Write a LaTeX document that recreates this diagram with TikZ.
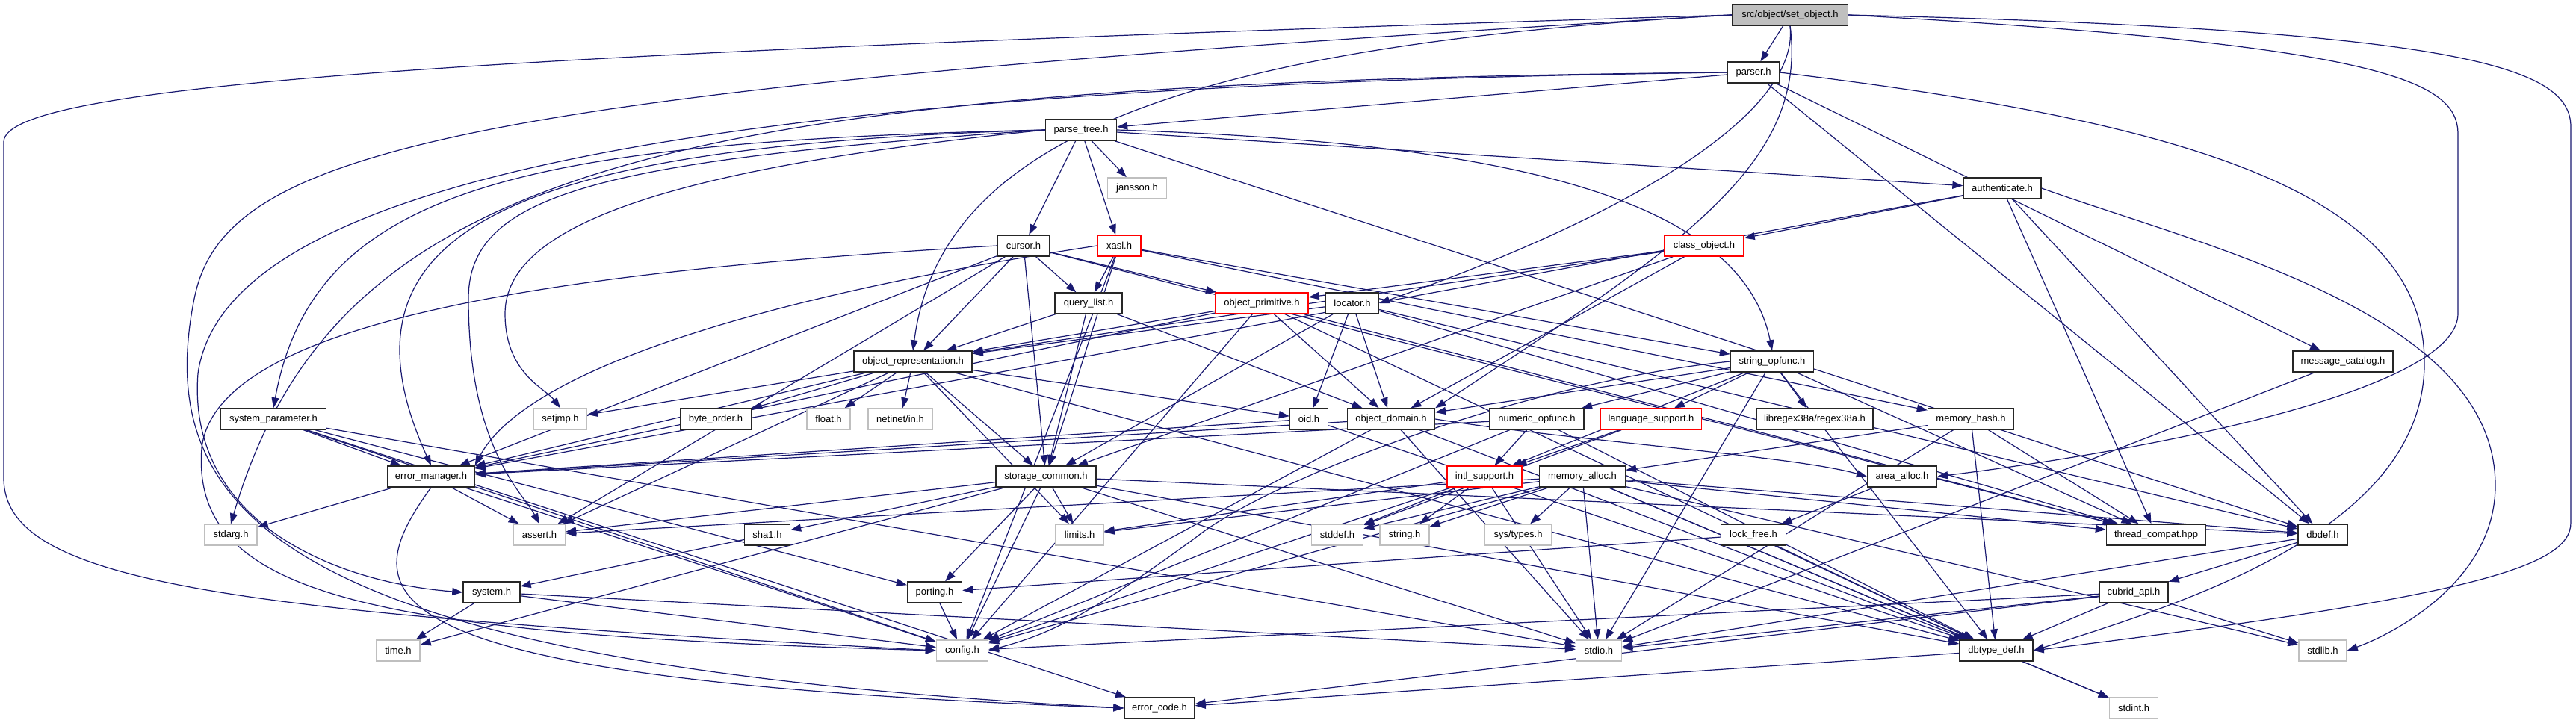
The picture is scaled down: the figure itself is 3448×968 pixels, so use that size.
\documentclass[tikz,border=0pt]{standalone}
\usepackage{fontspec}
\setmainfont{Liberation Sans}
\usetikzlibrary{arrows.meta,backgrounds}
\definecolor{edgeblue}{RGB}{25,25,112}
\definecolor{sysgray}{RGB}{191,191,191}
\begin{document}
\begin{tikzpicture}[x=1pt, y=-1pt, >={Triangle[length=14pt,width=10pt]},
  font=\fontsize{13}{15}\selectfont,
  hdr/.style={draw=black!85, line width=1.4pt, fill=white, minimum height=28pt, inner sep=2pt},
  sys/.style={hdr, draw=sysgray},
  bad/.style={hdr, draw=red},
  inc/.style={->, draw=edgeblue, line width=1.2pt}]
%% 1pt = 1px of the 3448 x 968 canvas, y grows downwards
\useasboundingbox (0,0) rectangle (3448,968);

%% ---- Rank 0-2 ----
\node[hdr, fill=sysgray, minimum width=155pt] (setobj) at (2396,20) {src/object/set\_object.h};
\node[hdr, minimum width=69pt]  (parser)       at (2347,97)  {parser.h};
\node[hdr, minimum width=95pt]  (parsetree)    at (1447,174) {parse\_tree.h};
\node[sys, minimum width=79pt]  (jansson)      at (1522,252) {jansson.h};
\node[hdr, minimum width=104pt] (authenticate) at (2680,252) {authenticate.h};

%% ---- Rank 3-4 ----
\node[hdr, minimum width=69pt]  (cursor)    at (1370,329) {cursor.h};
\node[bad, minimum width=58pt]  (xasl)      at (1498,329) {xasl.h};
\node[bad, minimum width=106pt] (classobj)  at (2281,329) {class\_object.h};
\node[hdr, minimum width=90pt]  (querylist) at (1457,406) {query\_list.h};
\node[bad, minimum width=124pt] (objprim)   at (1689,406) {object\_primitive.h};
\node[hdr, minimum width=71pt]  (locator)   at (1810,406) {locator.h};

%% ---- Rank 5 ----
\node[hdr, minimum width=158pt] (objrep)    at (1222,484) {object\_representation.h};
\node[hdr, minimum width=111pt] (stropfunc) at (2372,484) {string\_opfunc.h};
\node[hdr, minimum width=134pt] (msgcat)    at (3136,484) {message\_catalog.h};

%% ---- Rank 6 ----
\node[hdr, minimum width=141pt] (syspar)    at (366,561)  {system\_parameter.h};
\node[sys, minimum width=71pt]  (setjmp)    at (750,561)  {setjmp.h};
\node[hdr, minimum width=95pt]  (byteorder) at (958,561)  {byte\_order.h};
\node[sys, minimum width=58pt]  (float)     at (1109,561) {float.h};
\node[sys, minimum width=86pt]  (netinet)   at (1205,561) {netinet/in.h};
\node[hdr, minimum width=51pt]  (oid)       at (1752,561) {oid.h};
\node[hdr, minimum width=117pt] (objdomain) at (1862,561) {object\_domain.h};
\node[hdr, minimum width=126pt] (numopfunc) at (2057,561) {numeric\_opfunc.h};
\node[bad, minimum width=135pt] (langsup)   at (2210,561) {language\_support.h};
\node[hdr, minimum width=156pt] (regex)     at (2429,561) {libregex38a/regex38a.h};
\node[hdr, minimum width=115pt] (memhash)   at (2638,561) {memory\_hash.h};

%% ---- Rank 7 ----
\node[hdr, minimum width=116pt] (errmgr)     at (577,638)  {error\_manager.h};
\node[hdr, minimum width=134pt] (storcommon) at (1400,638) {storage\_common.h};
\node[bad, minimum width=100pt] (intl)       at (1987,638) {intl\_support.h};
\node[hdr, minimum width=115pt] (memalloc)   at (2118,638) {memory\_alloc.h};
\node[hdr, minimum width=93pt]  (areaalloc)  at (2546,638) {area\_alloc.h};

%% ---- Rank 8 ----
\node[sys, minimum width=70pt]  (stdarg)       at (309,716)  {stdarg.h};
\node[sys, minimum width=69pt]  (assert)       at (722,716)  {assert.h};
\node[hdr, minimum width=61pt]  (sha1)         at (1027,716) {sha1.h};
\node[sys, minimum width=64pt]  (limits)       at (1445,716) {limits.h};
\node[sys, minimum width=69pt]  (stddef)       at (1790,716) {stddef.h};
\node[sys, minimum width=66pt]  (string)       at (1880,716) {string.h};
\node[sys, minimum width=90pt]  (systypes)     at (2032,716) {sys/types.h};
\node[hdr, minimum width=87pt]  (lockfree)     at (2347,716) {lock\_free.h};
\node[hdr, minimum width=133pt] (threadcompat) at (2886,716) {thread\_compat.hpp};
\node[hdr, minimum width=66pt]  (dbdef)        at (3109,716) {dbdef.h};

%% ---- Rank 9-11 ----
\node[hdr, minimum width=76pt] (system)    at (658,793)  {system.h};
\node[hdr, minimum width=73pt] (porting)   at (1251,793) {porting.h};
\node[hdr, minimum width=92pt] (cubridapi) at (2856,793) {cubrid\_api.h};
\node[sys, minimum width=58pt] (time)      at (533,871)  {time.h};
\node[sys, minimum width=69pt] (config)    at (1288,871) {config.h};
\node[sys, minimum width=61pt] (stdio)     at (2140,871) {stdio.h};
\node[hdr, minimum width=98pt] (dbtype)    at (2672,871) {dbtype\_def.h};
\node[sys, minimum width=64pt] (stdlib)    at (3109,871) {stdlib.h};
\node[hdr, minimum width=94pt] (errcode)   at (1552,948) {error\_code.h};
\node[sys, minimum width=65pt] (stdint)    at (2856,948) {stdint.h};

%% ---- Include edges ----
\begin{scope}[on background layer]
\foreach \a/\b in {setobj/parser,
  parser/parsetree, parser/msgcat, parser/dbdef,
  parsetree/jansson, parsetree/cursor, parsetree/xasl, parsetree/authenticate, parsetree/dbdef,
  authenticate/classobj, authenticate/errmgr, authenticate/dbdef, authenticate/threadcompat,
  cursor/querylist, cursor/objrep, cursor/storcommon, cursor/objprim, cursor/errmgr,
  cursor/threadcompat, cursor/assert,
  xasl/querylist, xasl/storcommon, xasl/stropfunc, xasl/memhash, xasl/config,
  classobj/objprim, classobj/objdomain, classobj/storcommon, classobj/objrep,
  querylist/objrep, querylist/storcommon, querylist/objdomain,
  objprim/objrep, objprim/errmgr, objprim/config, objprim/objdomain, objprim/threadcompat, objprim/dbtype,
  locator/objrep, locator/oid, locator/storcommon, locator/objdomain, locator/threadcompat, locator/dbdef,
  objrep/byteorder, objrep/float, objrep/netinet, objrep/setjmp, objrep/assert, objrep/errmgr,
  objrep/storcommon, objrep/limits, objrep/oid, objrep/dbtype,
  stropfunc/objdomain, stropfunc/numopfunc, stropfunc/langsup, stropfunc/regex, stropfunc/intl,
  stropfunc/threadcompat, stropfunc/dbtype, stropfunc/stdio,
  msgcat/stdio,
  syspar/errmgr, syspar/errcode, syspar/config, syspar/porting, syspar/stdio,
  oid/errmgr, oid/dbtype,
  objdomain/errmgr, objdomain/config, objdomain/stdio, objdomain/dbtype,
  numopfunc/intl, numopfunc/errmgr, numopfunc/config, numopfunc/dbtype,
  langsup/intl, langsup/stddef,
  memhash/memalloc, memhash/dbtype, memhash/threadcompat, memhash/stdio,
  errmgr/stdarg, errmgr/assert, errmgr/config,
  storcommon/assert, storcommon/time, storcommon/sha1, storcommon/porting, storcommon/config,
  storcommon/limits, storcommon/stdio, storcommon/dbtype, storcommon/dbdef,
  intl/stddef, intl/string, intl/limits, intl/config, intl/stdio,
  memalloc/stddef, memalloc/string, memalloc/systypes, memalloc/stdio, memalloc/config, memalloc/limits,
  memalloc/dbtype, memalloc/threadcompat, memalloc/dbdef, memalloc/stdlib, memalloc/assert, memalloc/stdint,
  areaalloc/lockfree, lockfree/porting, lockfree/dbtype,
  sha1/system, system/time, system/config, system/stdio, porting/config,
  dbdef/cubridapi, dbdef/stdio,
  cubridapi/dbtype, cubridapi/errcode, cubridapi/stdlib, cubridapi/config, cubridapi/stdio,
  dbtype/stdint, dbtype/errcode}
  \draw[inc] (\a) -- (\b);

%% curved routes, as the layout bends them
\draw[inc] (setobj.west) .. controls (1600,60) and (1260,180) .. (objrep.north);
\draw[inc] (setobj.south) .. controls (2410,160) and (2150,300) .. (locator.east);
\draw[inc] (setobj.south) .. controls (2420,220) and (2250,330) .. (objdomain.north east);
\draw[inc] (parsetree.east) .. controls (2000,190) and (2330,260) .. (stropfunc.north);
\draw[inc] (parsetree.west) .. controls (700,190) and (420,250) .. (syspar.north);
\draw[inc] (parsetree.west) .. controls (700,195) and (430,300) .. (errmgr.north);
\draw[inc] (parsetree.west) .. controls (800,215) and (627,260) .. (627,400)
  .. controls (627,600) and (700,660) .. (assert.north);
\draw[inc] (parsetree.west) .. controls (900,225) and (676,300) .. (676,420)
  .. controls (676,500) and (730,520) .. (setjmp.north);
\draw[inc] (parser.west) .. controls (900,110) and (450,220) .. (stdarg.north);
\draw[inc] (parser.west) .. controls (900,115) and (300,250) .. (265,500)
  .. controls (250,700) and (450,780) .. (system.west);
\draw[inc] (cursor.west) .. controls (800,360) and (290,420) .. (270,600)
  .. controls (255,800) and (500,850) .. (config.west);
\draw[inc] (xasl.west) .. controls (1000,400) and (700,500) .. (errmgr.north east);
\draw[inc] (errmgr.south) .. controls (470,800) and (470,910) .. (errcode.west);
\draw[inc] (stropfunc.west) .. controls (2050,510) and (1700,640) .. (1600,720)
  .. controls (1450,830) and (1400,850) .. (config.east);
\draw[inc] (objdomain.east) .. controls (2100,590) and (2400,610) .. (areaalloc.west);
\draw[inc] (setobj.west) .. controls (700,70) and (5,110) .. (5,190) -- (5,640)
  .. controls (5,780) and (300,820) .. (config.west);
\draw[inc] (setobj.west) .. controls (600,120) and (300,200) .. (260,400)
  .. controls (200,700) and (400,890) .. (errcode.west);
\draw[inc] (setobj.east) .. controls (3200,60) and (3290,110) .. (3290,180) -- (3290,420)
  .. controls (3290,520) and (2900,600) .. (areaalloc.east);
\draw[inc] (setobj.east) .. controls (3300,40) and (3441,90) .. (3441,170) -- (3441,700)
  .. controls (3441,760) and (3300,800) .. (dbtype.east);
\draw[inc] (parser.east) .. controls (2900,160) and (3240,250) .. (3245,480)
  .. controls (3250,700) and (2950,800) .. (dbtype.east);
\draw[inc] (authenticate.east) .. controls (2950,330) and (3340,420) .. (3340,650)
  .. controls (3340,780) and (3200,850) .. (stdlib.east);
\end{scope}
\end{tikzpicture}
\end{document}
